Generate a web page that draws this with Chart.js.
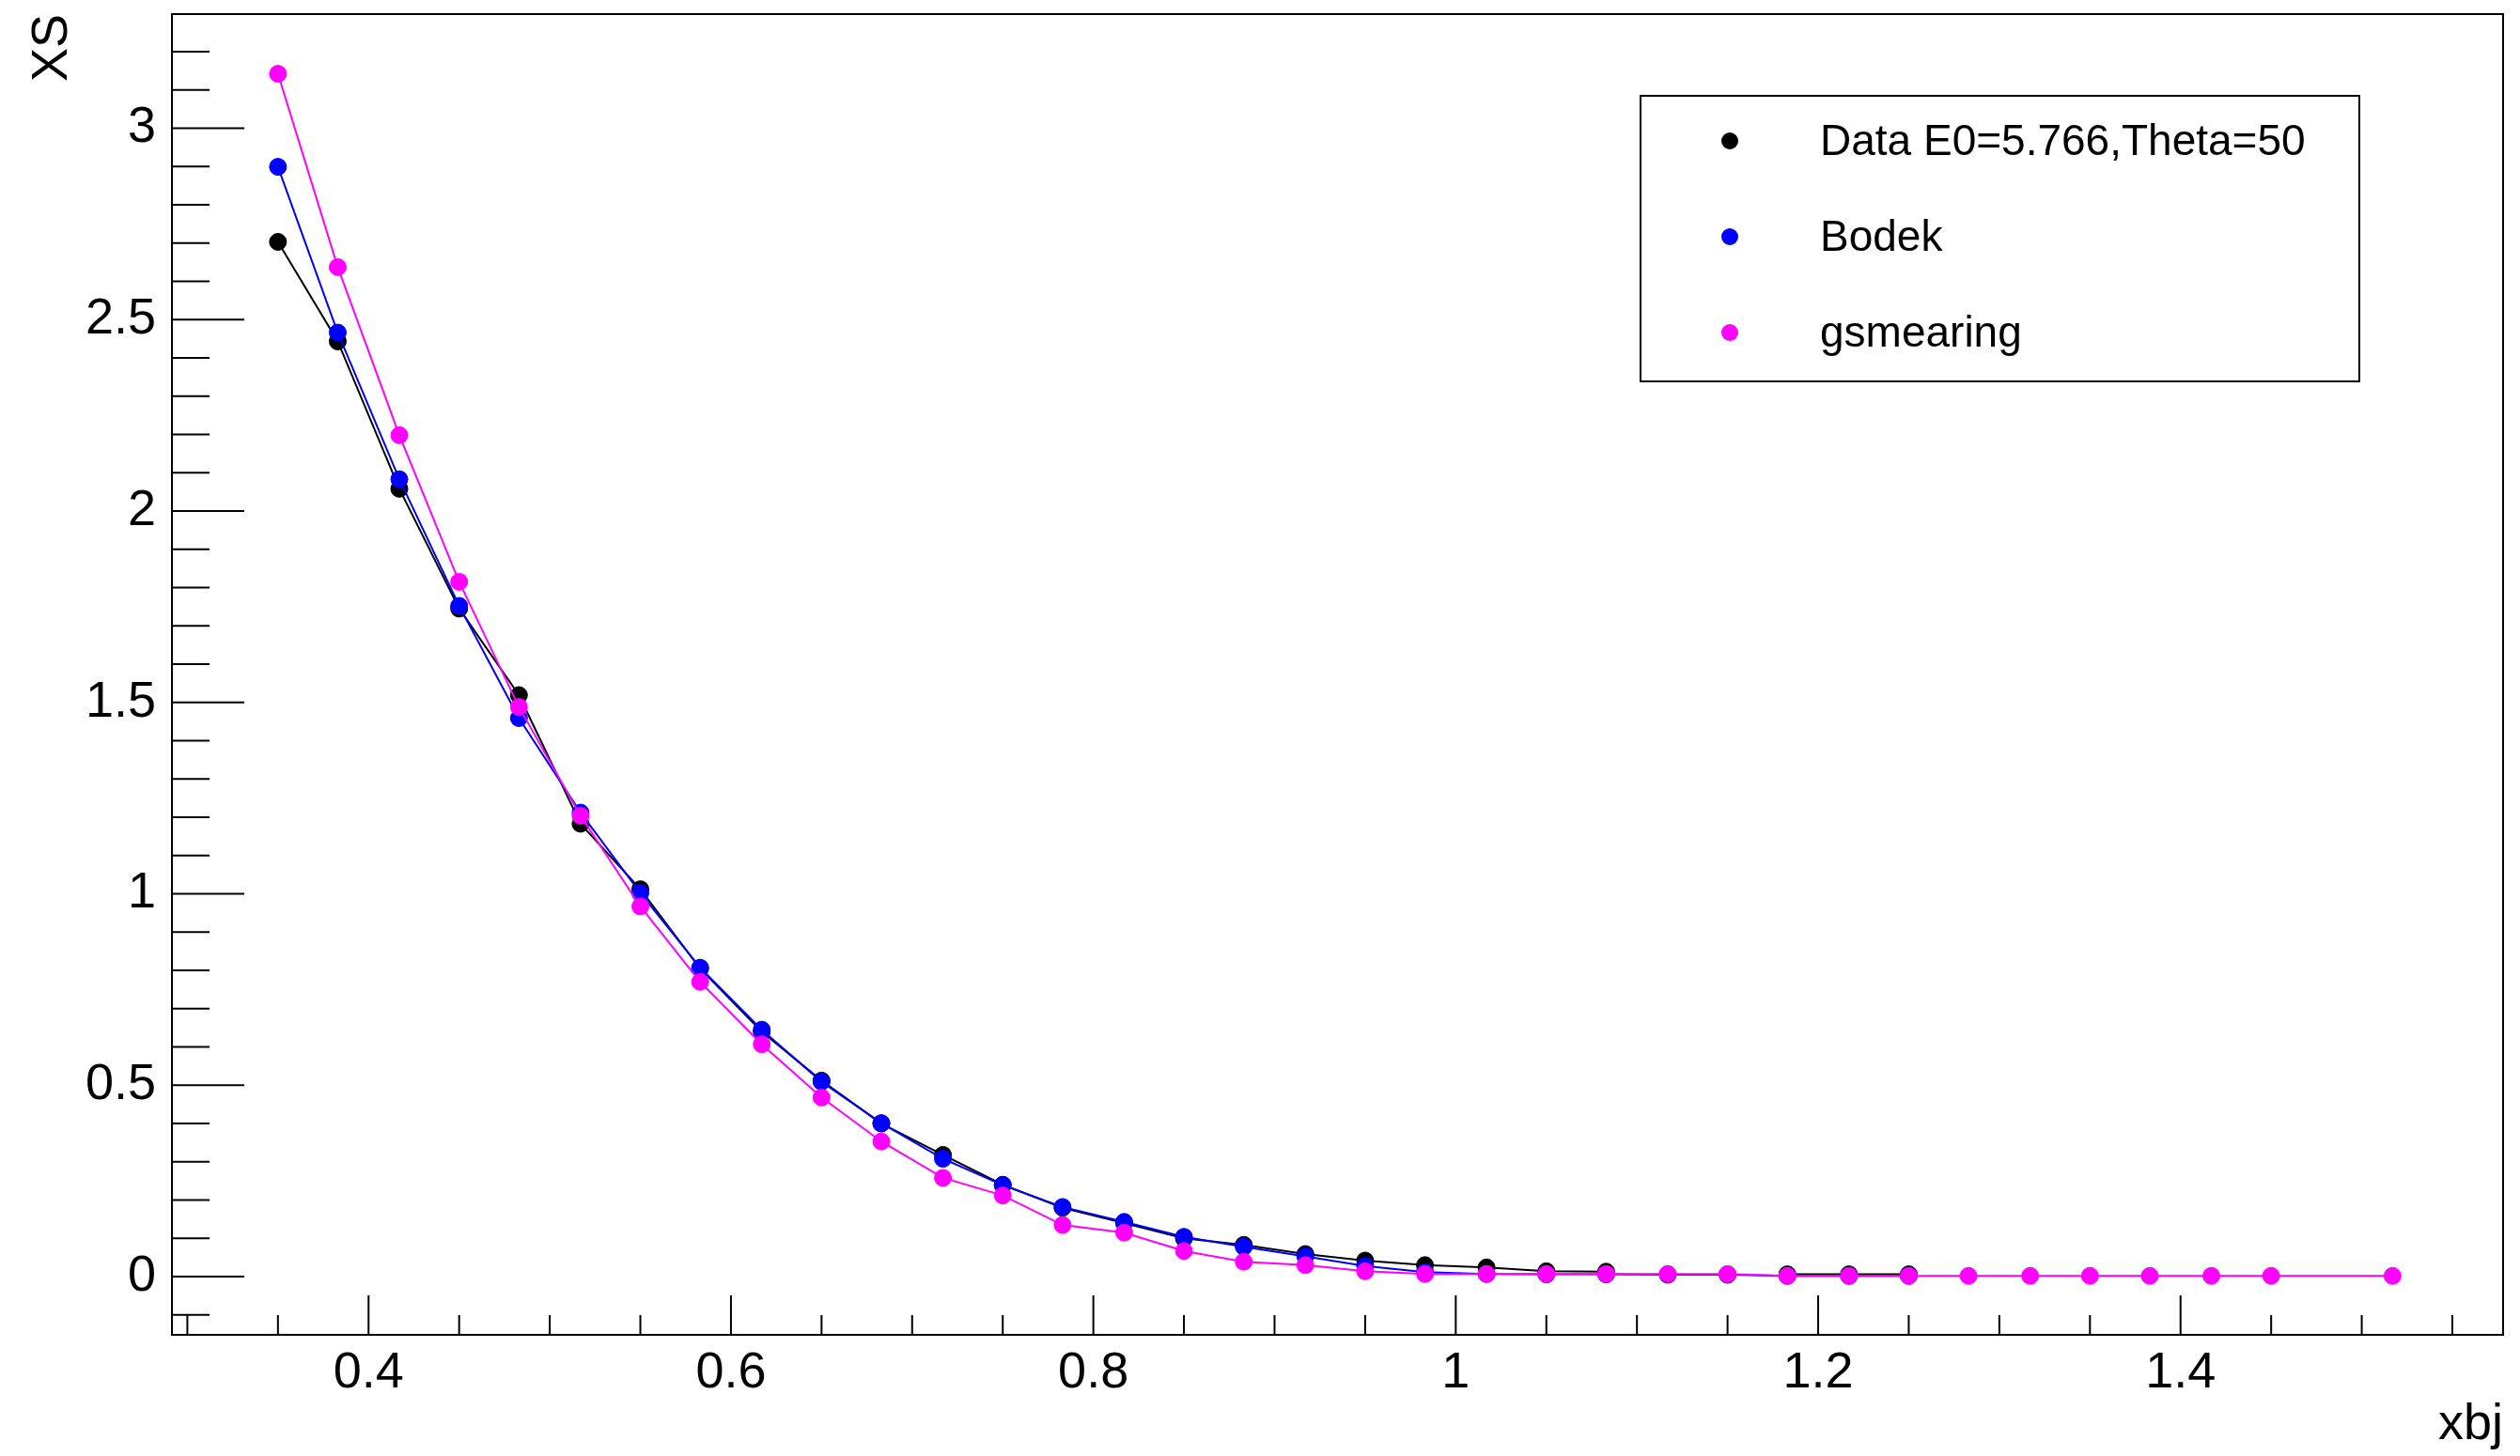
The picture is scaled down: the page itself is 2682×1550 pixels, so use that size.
<!DOCTYPE html>
<html>
<head>
<meta charset="utf-8">
<title>XS vs xbj</title>
<script src="https://cdn.jsdelivr.net/npm/chart.js@4.4.1/dist/chart.umd.min.js"></script>
<style>
  html, body { margin: 0; padding: 0; background: #fff; }
  #wrap { width: 2682px; height: 1550px; }
</style>
</head>
<body>
<div id="wrap"><canvas id="myChart" width="2682" height="1550"></canvas></div>
<script>
// xbj bin centres
const xbj = [0.350, 0.383, 0.417, 0.450, 0.483, 0.517, 0.550, 0.583, 0.617, 0.650,
             0.683, 0.717, 0.750, 0.783, 0.817, 0.850, 0.883, 0.917, 0.950, 0.983,
             1.017, 1.050, 1.083, 1.117, 1.150, 1.183, 1.217, 1.250, 1.283, 1.317,
             1.350, 1.383, 1.417, 1.450, 1.483, 1.517];

// cross sections (null = no point)
const dataXS = [2.703, 2.443, 2.058, 1.745, 1.519, 1.183, 1.012, 0.805, 0.640, 0.512,
                0.400, 0.318, 0.240, 0.180, 0.140, 0.100, 0.083, 0.059, 0.042, 0.030,
                0.024, 0.014, 0.013, null, null, 0.006, 0.006, 0.006];
const bodekXS = [2.899, 2.466, 2.083, 1.752, 1.459, 1.212, 1.002, 0.807, 0.645, 0.509,
                 0.401, 0.308, 0.239, 0.182, 0.143, 0.104, 0.078, 0.053, 0.028, 0.012,
                 0.007, 0.006, 0.006, 0.005, 0.005, 0.002, 0.002, 0.002];
const gsmearXS = [3.142, 2.637, 2.198, 1.815, 1.488, 1.204, 0.967, 0.770, 0.607, 0.468,
                  0.353, 0.258, 0.212, 0.135, 0.115, 0.067, 0.039, 0.030, 0.014, 0.007,
                  0.007, 0.007, 0.007, 0.007, 0.007, 0.002, 0.002, 0.002, 0.002, 0.002,
                  0.002, 0.002, 0.002, 0.002, null, 0.002];

const xTickLabels = [0.4, 0.6, 0.8, 1, 1.2, 1.4];
const yTickLabels = [0, 0.5, 1, 1.5, 2, 2.5, 3];
const seriesNames = ['Data E0=5.766,Theta=50', 'Bodek', 'gsmearing'];
const seriesColors = ['#000000', '#0000ff', '#ff00ff'];

const FONT = '"Liberation Sans", Arial, Helvetica, sans-serif';

function toPoints(vals, keepGaps) {
    let pts = vals.map((v, i) => ({ x: xbj[i], y: v }));
    if (!keepGaps) pts = pts.filter(p => p.y !== null);
    return pts;
}

// ROOT-like frame with inner ticks (major + minor)
const rootFrame = {
    id: 'rootFrame',
    beforeDatasetsDraw(chart) {
        const { ctx, chartArea: a, scales: { x, y } } = chart;
        ctx.save();
        ctx.strokeStyle = '#000';
        ctx.lineWidth = 2;
        ctx.strokeRect(a.left, a.top, a.right - a.left, a.bottom - a.top);
        ctx.beginPath();
        for (let i = Math.ceil(x.min / 0.05 - 1e-6); i * 0.05 <= x.max; i++) {
            const px = x.getPixelForValue(i * 0.05);
            const len = i % 4 === 0 ? 42 : 21;
            ctx.moveTo(px, a.bottom);
            ctx.lineTo(px, a.bottom - len);
        }
        for (let i = Math.ceil(y.min / 0.1 - 1e-6); i * 0.1 <= y.max; i++) {
            const py = y.getPixelForValue(i * 0.1);
            const len = i % 5 === 0 ? 77 : 40;
            ctx.moveTo(a.left, py);
            ctx.lineTo(a.left + len, py);
        }
        ctx.stroke();
        ctx.restore();
    }
};

// boxed legend inside the frame
const rootLegend = {
    id: 'rootLegend',
    afterDraw(chart) {
        const ctx = chart.ctx;
        ctx.save();
        ctx.fillStyle = '#fff';
        ctx.fillRect(1746, 102, 765, 304);
        ctx.lineWidth = 2;
        ctx.strokeStyle = '#000';
        ctx.strokeRect(1746, 102, 765, 304);
        ctx.font = '46px ' + FONT;
        ctx.textBaseline = 'middle';
        seriesNames.forEach((name, i) => {
            const cy = 150 + i * 102;
            ctx.fillStyle = seriesColors[i];
            ctx.beginPath();
            ctx.arc(1841, cy, 9, 0, 2 * Math.PI);
            ctx.fill();
            ctx.fillStyle = '#000';
            ctx.fillText(name, 1937, cy + 2);
        });
        ctx.restore();
    }
};

function makeSet(i, vals, keepGaps, order) {
    return {
        label: seriesNames[i],
        data: toPoints(vals, keepGaps),
        borderColor: seriesColors[i],
        backgroundColor: seriesColors[i],
        pointBackgroundColor: seriesColors[i],
        pointBorderColor: seriesColors[i],
        pointBorderWidth: 1,
        pointRadius: 9,
        borderWidth: 2,
        tension: 0,
        spanGaps: false,
        order: order
    };
}

let ctx = document.getElementById('myChart');

new Chart(ctx, {
    type: 'line',
    data: {
        datasets: [
            makeSet(0, dataXS, true, 3),
            makeSet(1, bodekXS, true, 2),
            makeSet(2, gsmearXS, false, 1)
        ]
    },
    options: {
        responsive: false,
        animation: false,
        devicePixelRatio: 1,
        layout: { padding: { top: 15, right: 18, left: 0, bottom: 0 } },
        plugins: {
            legend: { display: false },
            tooltip: { enabled: false }
        },
        scales: {
            x: {
                type: 'linear',
                min: 0.2915,
                max: 1.578,
                grid: { display: false, drawTicks: false },
                border: { display: false },
                afterFit: s => { s.height = 129; s.paddingLeft = 0; s.paddingRight = 0; },
                afterBuildTicks: s => { s.ticks = xTickLabels.map(v => ({ value: v })); },
                ticks: {
                    padding: 9,
                    color: '#000',
                    maxRotation: 0,
                    autoSkip: false,
                    font: { family: FONT, size: 54 },
                    callback: v => String(v)
                },
                title: {
                    display: true,
                    text: 'xbj',
                    align: 'end',
                    color: '#000',
                    font: { family: FONT, size: 54 },
                    padding: { top: 0, bottom: 0 }
                }
            },
            y: {
                type: 'linear',
                min: -0.152,
                max: 3.298,
                grid: { display: false, drawTicks: false },
                border: { display: false },
                afterFit: s => { s.width = 183; s.paddingTop = 0; s.paddingBottom = 0; },
                afterBuildTicks: s => { s.ticks = yTickLabels.map(v => ({ value: v })); },
                ticks: {
                    padding: 17,
                    color: '#000',
                    autoSkip: false,
                    font: { family: FONT, size: 54 },
                    callback: v => String(v)
                },
                title: {
                    display: true,
                    text: 'XS',
                    align: 'end',
                    color: '#000',
                    font: { family: FONT, size: 54 },
                    padding: { top: 24, bottom: 0 }
                }
            }
        }
    },
    plugins: [rootFrame, rootLegend]
});
</script>
</body>
</html>
